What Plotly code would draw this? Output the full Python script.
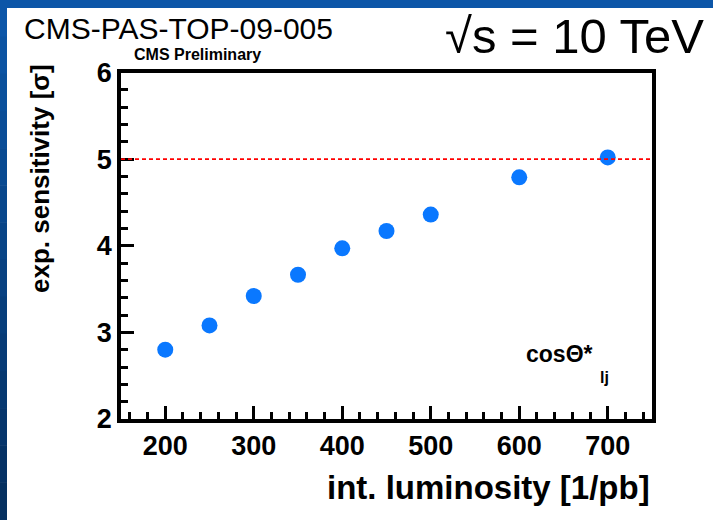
import plotly.graph_objects as go

# Expected significance vs. integrated luminosity (cos theta*_lj analysis)
luminosity = [200, 250, 300, 350, 400, 450, 500, 600, 700]
sensitivity = [2.80, 3.08, 3.42, 3.665, 3.97, 4.17, 4.36, 4.79, 5.02]
discovery_level = 5.0

x_range = [150, 750]
y_range = [2, 6]

W, H = 713, 520
# plot frame in pixels
fx0, fx1 = 121, 652
fy0, fy1 = 72.5, 419

FONT = "Liberation Sans"

fig = go.Figure()

fig.add_trace(go.Scatter(
    x=luminosity, y=sensitivity, mode="markers",
    marker=dict(size=16, color="#0a78ff", line=dict(width=0)),
    showlegend=False, cliponaxis=False,
))

# 5 sigma reference line
fig.add_shape(type="line", xref="x", yref="y",
              x0=x_range[0], x1=x_range[1], y0=discovery_level, y1=discovery_level,
              line=dict(color="#ff0000", width=1.6, dash="4px,3px"))

# slide-style blue border on the top and left edges
shapes = []
n = 14
for i in range(n):
    t = i / (n - 1)
    r = int(12 + (5 - 12) * t)
    g = int(86 + (48 - 86) * t)
    b = int(168 + (96 - 168) * t)
    shapes.append(dict(type="rect", xref="paper", yref="paper", layer="below",
                       x0=0, x1=7 / W, y0=1 - (i + 1) / n, y1=1 - i / n + 0.001,
                       fillcolor=f"rgb({r},{g},{b})", line=dict(width=0)))
shapes.append(dict(type="rect", xref="paper", yref="paper", layer="below",
                   x0=0, x1=1, y0=1 - 8 / H, y1=1,
                   fillcolor="#0c56a8", line=dict(width=0)))
for s in shapes:
    fig.add_shape(**s)

axis_common = dict(
    showgrid=False, zeroline=False, showline=True, linecolor="black",
    linewidth=3.5, mirror=True, ticks="inside", tickcolor="black",
    tickwidth=3, ticklen=13, automargin=False,
    tickfont=dict(family=FONT, size=27, color="black", weight="bold"),
)

fig.update_layout(
    width=W, height=H,
    margin=dict(l=0, r=0, t=0, b=0, autoexpand=False),
    paper_bgcolor="white", plot_bgcolor="white",
    xaxis=dict(range=x_range, domain=[fx0 / W, fx1 / W], dtick=100,
               minor=dict(dtick=20, ticks="inside", ticklen=7, tickwidth=3,
                          tickcolor="black"),
               **axis_common),
    yaxis=dict(range=y_range, domain=[1 - fy1 / H, 1 - fy0 / H], dtick=1,
               minor=dict(dtick=0.2, ticks="inside", ticklen=7, tickwidth=3,
                          tickcolor="black"),
               **axis_common),
    showlegend=False,
)

ann = [
    dict(text="CMS-PAS-TOP-09-005", x=22 / W, y=1 - 28.5 / H, xanchor="left", yanchor="middle",
         font=dict(family=FONT, size=30, color="black")),
    dict(text="\u221As = 10 TeV", x=706 / W, y=1 - 36 / H, xanchor="right", yanchor="middle",
         font=dict(family=FONT, size=49, color="black")),
    dict(text="CMS Preliminary", x=197 / W, y=1 - 55 / H, xanchor="center", yanchor="middle",
         font=dict(family=FONT, size=16, color="black", weight="bold")),
    dict(text="int. luminosity [1/pb]", x=652 / W, y=1 - 487 / H, xanchor="right", yanchor="middle",
         font=dict(family=FONT, size=33, color="black", weight="bold")),
    dict(text="exp. sensitivity [\u03c3]", x=40 / W, y=1 - 179 / H, xanchor="center", yanchor="middle",
         textangle=-90, font=dict(family=FONT, size=26, color="black", weight="bold")),
    dict(text="cos\u0398*", x=524 / W, y=1 - 354 / H, xanchor="left", yanchor="middle",
         font=dict(family=FONT, size=23, color="black", weight="bold")),
    dict(text="lj", x=598 / W, y=1 - 377 / H, xanchor="left", yanchor="middle",
         font=dict(family=FONT, size=16, color="black", weight="bold")),
]
for a in ann:
    fig.add_annotation(xref="paper", yref="paper", showarrow=False, **a)

fig.write_html("out.html")
